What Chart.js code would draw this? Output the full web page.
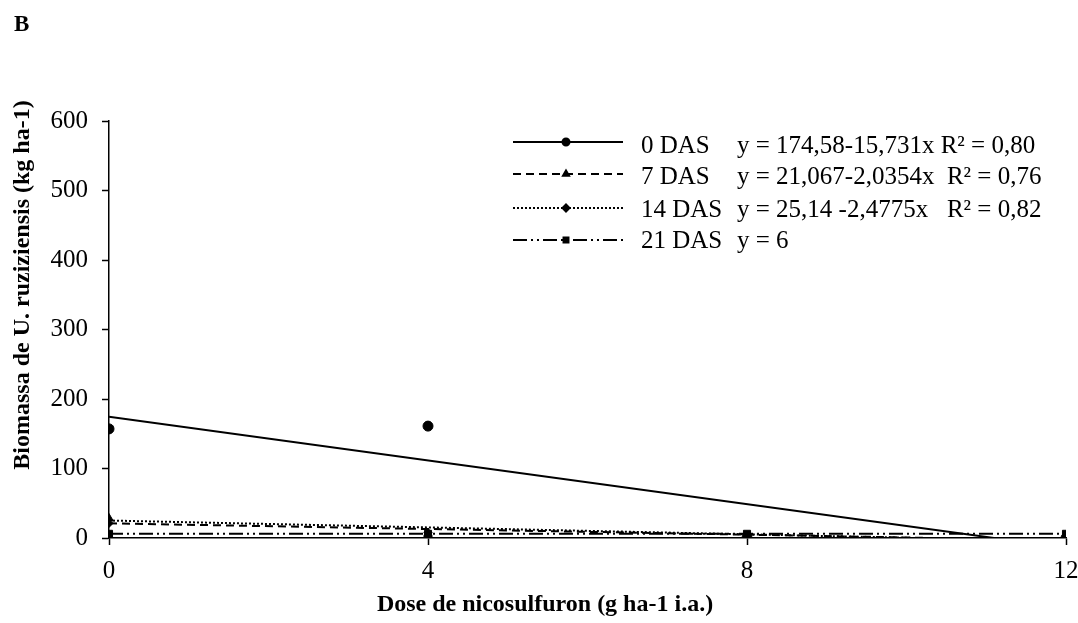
<!DOCTYPE html>
<html>
<head>
<meta charset="utf-8">
<script src="https://cdn.jsdelivr.net/npm/chart.js@4.4.0/dist/chart.umd.min.js"></script>
<style>
  body { margin: 0; background: #fff; }
  #wrap { width: 1078px; height: 623px; position: relative; }
</style>
</head>
<body>
<div id="wrap"><canvas id="chart"></canvas></div>
<script>
// doses (g ha-1 i.a.)
var doses = [0, 4, 8, 12];
// observed biomass
var obs0 = [157, 161, 0, 0];
var obs7 = [28, 6, 2, 0];
var obs14 = [21, 8, 3, 0];
var obs21 = [6, 6, 6, 6];
// fitted lines, values at x = 0 and x = 12
var trendX = [0, 12];
var trend0 = [174.58, -14.19];
var trend7 = [21.07, -3.36];
var trend14 = [25.14, -4.59];
var trend21 = [6, 6];
var yTicks = [0, 100, 200, 300, 400, 500, 600];

var legendNames = ['0 DAS', '7 DAS', '14 DAS', '21 DAS'];
var legendEqs = ['y = 174,58-15,731x R² = 0,80', 'y = 21,067-2,0354x  R² = 0,76',
                 'y = 25,14 -2,4775x   R² = 0,82', 'y = 6'];
var xTitle = 'Dose de nicosulfuron (g ha-1 i.a.)';
var yTitle = 'Biomassa de U. ruziziensis (kg ha-1)';

var FONT = "'Liberation Serif', 'Times New Roman', serif";

function pts(xs, ys) {
    return xs.map(function (x, i) { return {x: x, y: ys[i]}; });
}

var series = [
    {obs: obs0, trend: trend0, dash: [], width: 2, marker: 'circle', r: 5},
    {obs: obs7, trend: trend7, dash: [8, 5], width: 2, marker: 'triangle', r: 5},
    {obs: obs14, trend: trend14, dash: [2, 2], width: 2, marker: 'rectRot', r: 4},
    {obs: obs21, trend: trend21, dash: [14, 4, 2, 4, 2, 4], width: 2, marker: 'rect', r: 5}
];

var datasets = [];
series.forEach(function (s, i) {
    datasets.push({
        label: legendNames[i] + ' fit',
        data: pts(trendX, s.trend),
        showLine: true,
        borderColor: '#000',
        borderWidth: s.width,
        borderDash: s.dash,
        pointRadius: 0,
        order: 2
    });
    datasets.push({
        label: legendNames[i],
        data: pts(doses, s.obs),
        showLine: false,
        pointStyle: s.marker,
        pointRadius: s.r,
        backgroundColor: '#000',
        borderColor: '#000',
        order: 1
    });
});

var legendPlugin = {
    id: 'customLegend',
    afterDraw: function (chart) {
        var ctx = chart.ctx;
        ctx.save();
        ctx.fillStyle = '#000';
        ctx.textBaseline = 'middle';
        ctx.textAlign = 'left';
        // panel letter
        ctx.font = 'bold 23px ' + FONT;
        ctx.fillText('B', 14, 25);

        // axis titles
        ctx.font = 'bold 24px ' + FONT;
        ctx.textAlign = 'center';
        ctx.fillText(xTitle, 545, 605);
        ctx.save();
        ctx.translate(23, 285);
        ctx.rotate(-Math.PI / 2);
        ctx.fillText(yTitle, 0, 0);
        ctx.restore();

        ctx.textAlign = 'left';
        var lineY = [142, 174, 208, 240];
        var textY = [146, 177, 210, 241];
        series.forEach(function (s, i) {
            var y = lineY[i];
            ctx.strokeStyle = '#000';
            ctx.lineWidth = s.width;
            ctx.setLineDash(s.dash);
            ctx.beginPath();
            ctx.moveTo(513, y);
            ctx.lineTo(623, y);
            ctx.stroke();
            ctx.setLineDash([]);
            Chart.helpers.drawPoint(ctx, {pointStyle: s.marker, radius: 3.5, borderWidth: 1}, 566, y);
            ctx.fill();
            ctx.font = '25px ' + FONT;
            ctx.fillStyle = '#000';
            ctx.fillText(legendNames[i], 641, textY[i]);
            ctx.fillText(legendEqs[i], 737, textY[i]);
        });
        ctx.restore();
    }
};

var ctx = document.getElementById('chart').getContext('2d');
var chart = new Chart(ctx, {
    type: 'scatter',
    data: {datasets: datasets},
    options: {
        responsive: true,
        maintainAspectRatio: false,
        animation: false,
        events: [],
        layout: {padding: {top: 121, right: 0, bottom: 0, left: 0}},
        plugins: {
            legend: {display: false},
            tooltip: {enabled: false}
        },
        scales: {
            x: {
                type: 'linear',
                min: 0,
                max: 12,
                afterFit: function (scale) {
                    scale.height = 85;
                    scale.paddingRight = 12;
                    scale.paddingLeft = 0;
                },
                afterBuildTicks: function (scale) {
                    scale.ticks = doses.map(function (v) { return {value: v}; });
                },
                ticks: {color: '#000', font: {family: FONT, size: 25}, padding: 11},
                grid: {display: true, drawOnChartArea: false, color: '#000', tickLength: 7, tickWidth: 1.5},
                border: {color: '#000', width: 1.5}
            },
            y: {
                min: 0,
                max: 600,
                afterFit: function (scale) { scale.width = 109; },
                afterBuildTicks: function (scale) {
                    scale.ticks = yTicks.map(function (v) { return {value: v}; });
                },
                ticks: {color: '#000', font: {family: FONT, size: 25}, padding: 14},
                grid: {display: true, drawOnChartArea: false, color: '#000', tickLength: 7, tickWidth: 1.5},
                border: {color: '#000', width: 1.5}
            }
        }
    },
    plugins: [legendPlugin]
});
</script>
</body>
</html>
